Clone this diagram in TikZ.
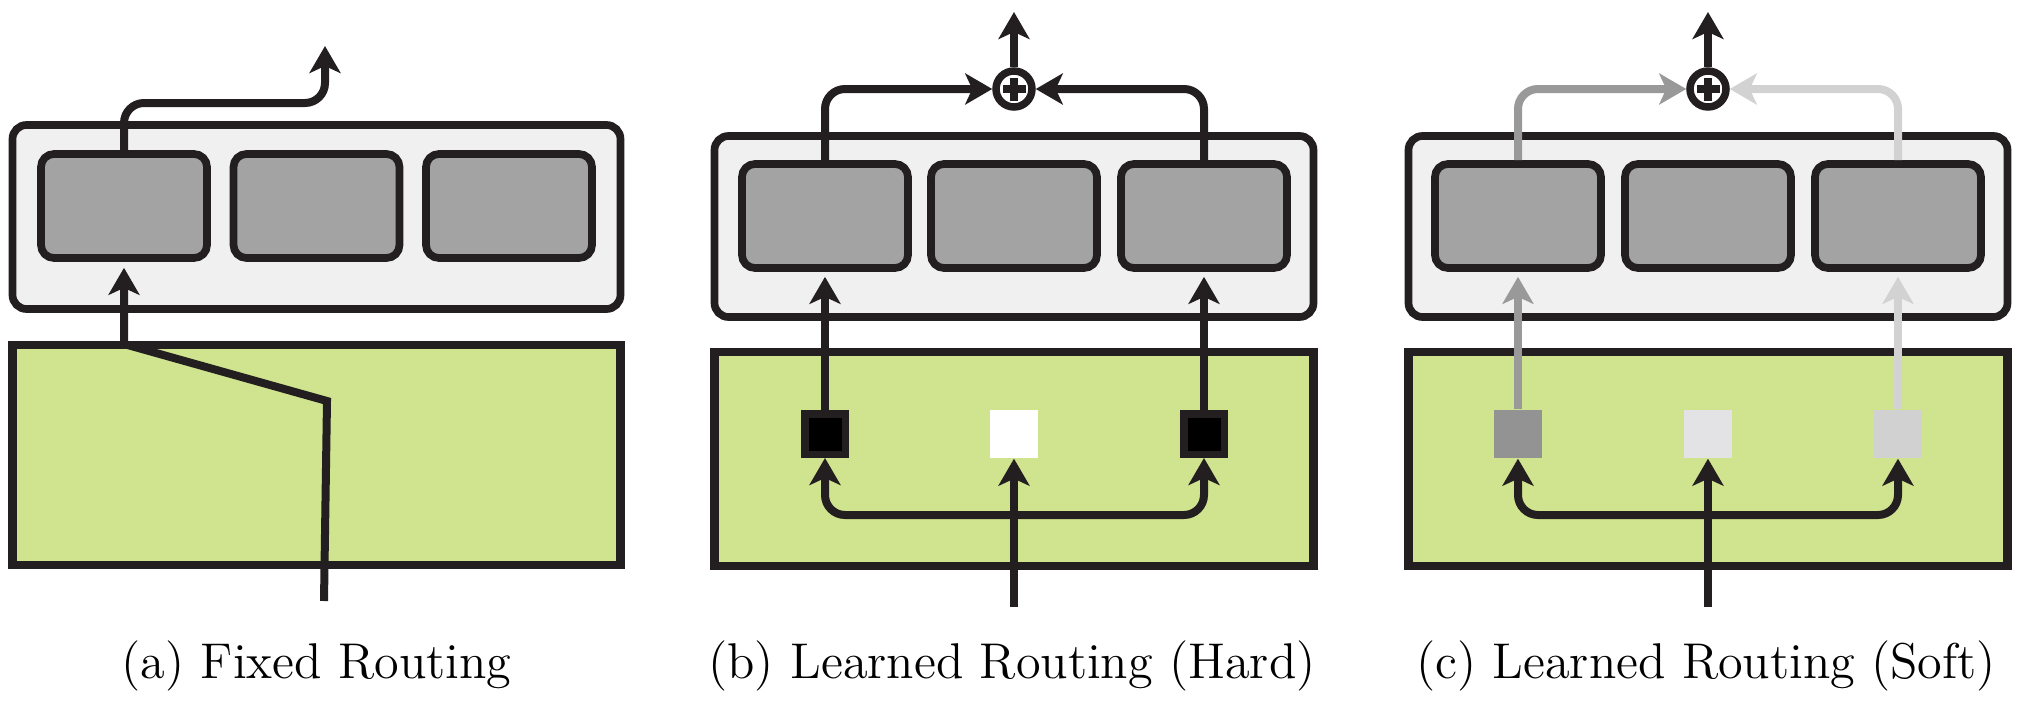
\documentclass[tikz,border=0pt]{standalone}
\usetikzlibrary{arrows.meta}

\definecolor{edge}{HTML}{231F20}
\definecolor{layerfill}{HTML}{F0F0F0}
\definecolor{modfill}{HTML}{A3A3A3}
\definecolor{routefill}{RGB}{208,227,142}
\definecolor{softa}{HTML}{999999}
\definecolor{softb}{HTML}{D2D2D2}
\definecolor{gatea}{HTML}{939393}
\definecolor{gateb}{HTML}{E3E3E5}
\definecolor{gatec}{HTML}{D1D1D1}

\tikzset{
  layer/.style={draw=edge, fill=layerfill, line width=0.077cm, rounded corners=0.14cm,
    minimum width=5.99cm, minimum height=1.81cm},
  module/.style={draw=edge, fill=modfill, line width=0.077cm, rounded corners=0.13cm,
    minimum width=1.66cm, minimum height=1.04cm},
  router/.style={draw=edge, fill=routefill, line width=0.083cm,
    minimum width=5.99cm, minimum height=2.14cm},
  gate/.style={minimum size=0.48cm, inner sep=0pt},
  hardgate/.style={gate, draw=edge, fill=black, line width=0.075cm, minimum size=0.405cm},
  sumnode/.style={circle, draw=edge, fill=white, line width=0.075cm, minimum size=0.36cm,
    inner sep=0pt,
    path picture={
      \draw[edge, line width=0.08cm]
        ([xshift=-0.115cm]path picture bounding box.center) -- ([xshift=0.115cm]path picture bounding box.center)
        ([yshift=-0.115cm]path picture bounding box.center) -- ([yshift=0.115cm]path picture bounding box.center);
    }},
  flow/.style={draw=edge, line width=0.08cm,
    -{Stealth[length=0.27cm, width=0.31cm, inset=0.07cm]}},
  caption/.style={anchor=base, font=\fontsize{14.3}{17}\selectfont},
}

\begin{document}
\begin{tikzpicture}
  \useasboundingbox (0,0) rectangle (20.25,7.15);

  % (a) fixed routing
  \node[layer, minimum width=6.08cm, minimum height=1.84cm] (a-layer) at (3.165, 4.98) {};
  \node[module] (a1) at (1.24, 5.09) {};
  \node[module] (a2) at (3.165, 5.09) {};
  \node[module] (a3) at (5.09, 5.09) {};
  \node[router, minimum width=6.08cm, minimum height=2.2cm] (a-router) at (3.165, 2.60) {};

  \coordinate (a-in) at (3.24, 1.14);
  \coordinate (a-bend) at (3.27, 3.14);
  \coordinate (a-top) at (1.24, 3.71);
  \coordinate (a-turn) at (3.25, 6.12);
  \coordinate (a-out) at (3.25, 6.69);

  \draw[flow, shorten >=0.06cm] (a-in) -- (a-bend) -- (a-top) -- (a1.south);
  \draw[flow, rounded corners=0.2cm] (a1.north) |- (a-turn) -- (a-out);

  \node[caption] (a-cap) at (3.165, 0.37) {(a) Fixed Routing};

  % (b) learned routing, hard
  \node[layer] (b-layer) at (10.14, 4.885) {};
  \node[module] (b1) at (8.25, 4.99) {};
  \node[module] (b2) at (10.14, 4.99) {};
  \node[module] (b3) at (12.04, 4.99) {};
  \node[router] (b-router) at (10.14, 2.56) {};
  \node[hardgate] (b-g1) at (8.25, 2.81) {};
  \node[gate, fill=white] (b-g2) at (10.14, 2.81) {};
  \node[hardgate] (b-g3) at (12.04, 2.81) {};
  \node[sumnode] (b-sum) at (10.14, 6.26) {};

  \coordinate (b-in) at (10.14, 1.08);
  \coordinate (b-fork) at (10.14, 2.0);
  \coordinate (b-out) at (10.14, 7.03);

  \draw[flow] (b-in) -- (b-g2.south);
  \draw[flow, rounded corners=0.2cm] (b-fork) -| (b-g1.south);
  \draw[flow, rounded corners=0.2cm] (b-fork) -| (b-g3.south);
  \draw[flow, shorten >=0.05cm] (b-g1.north) -- (b1.south);
  \draw[flow, shorten >=0.05cm] (b-g3.north) -- (b3.south);
  \draw[flow, rounded corners=0.2cm] (b1.north) |- (b-sum.west);
  \draw[flow, rounded corners=0.2cm] (b3.north) |- (b-sum.east);
  \draw[flow] (b-sum.north) -- (b-out);

  \node[caption] (b-cap) at (10.12, 0.37) {(b) Learned Routing (Hard)};

  % (c) learned routing, soft
  \node[layer] (c-layer) at (17.08, 4.885) {};
  \node[module] (c1) at (15.18, 4.99) {};
  \node[module] (c2) at (17.08, 4.99) {};
  \node[module] (c3) at (18.98, 4.99) {};
  \node[router] (c-router) at (17.08, 2.56) {};
  \node[gate, fill=gatea] (c-g1) at (15.18, 2.81) {};
  \node[gate, fill=gateb] (c-g2) at (17.08, 2.81) {};
  \node[gate, fill=gatec] (c-g3) at (18.98, 2.81) {};
  \node[sumnode] (c-sum) at (17.08, 6.26) {};

  \coordinate (c-in) at (17.08, 1.08);
  \coordinate (c-fork) at (17.08, 2.0);
  \coordinate (c-out) at (17.08, 7.03);

  \draw[flow] (c-in) -- (c-g2.south);
  \draw[flow, rounded corners=0.2cm] (c-fork) -| (c-g1.south);
  \draw[flow, rounded corners=0.2cm] (c-fork) -| (c-g3.south);
  \draw[flow, draw=softa, shorten >=0.05cm] (c-g1.north) -- (c1.south);
  \draw[flow, draw=softb, shorten >=0.05cm] (c-g3.north) -- (c3.south);
  \draw[flow, draw=softa, rounded corners=0.2cm] (c1.north) |- (c-sum.west);
  \draw[flow, draw=softb, rounded corners=0.2cm] (c3.north) |- (c-sum.east);
  \draw[flow] (c-sum.north) -- (c-out);

  \node[caption] (c-cap) at (17.06, 0.37) {(c) Learned Routing (Soft)};
\end{tikzpicture}
\end{document}
